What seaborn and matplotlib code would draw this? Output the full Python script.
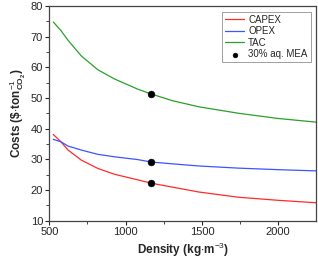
import matplotlib
matplotlib.use('Agg')
import pandas as pd
import matplotlib.pyplot as plt
import seaborn as sns

# 데이터
density = [526, 576, 623, 710, 818, 927, 1078, 1167, 1307, 1481, 1740, 2000, 2250]
capex = [38.1, 35.7, 33.0, 29.7, 27.0, 25.1, 23.3, 22.2, 20.9, 19.3, 17.6, 16.6, 15.8]
opex = [36.5, 35.7, 34.3, 33.0, 31.6, 30.8, 29.9, 29.1, 28.5, 27.8, 27.1, 26.6, 26.2]
tac = [74.8, 72.0, 68.8, 63.7, 59.2, 56.2, 52.9, 51.3, 49.1, 47.1, 45.0, 43.3, 42.1]

# 30% aq. MEA 기준점
mea_density = [1167, 1167, 1167]
mea_cost = [22.2, 29.1, 51.2]

series_names = ['CAPEX', 'OPEX', 'TAC']
colors = ['#ff2a2a', '#3b55ff', '#2aa02a']

df = pd.DataFrame({
    'density': density * 3,
    'cost': capex + opex + tac,
    'series': [n for n in series_names for _ in density],
})

sns.set_style('ticks')
plt.rcParams['font.family'] = ['Liberation Sans', 'DejaVu Sans']
plt.rcParams['mathtext.fontset'] = 'custom'
plt.rcParams['mathtext.rm'] = 'Liberation Sans'
plt.rcParams['mathtext.bf'] = 'Liberation Sans:bold'

fig, ax = plt.subplots(figsize=(3.18, 2.61), dpi=100)

sns.lineplot(data=df, x='density', y='cost', hue='series', hue_order=series_names,
             palette=colors, linewidth=0.9, ax=ax)
sns.scatterplot(x=mea_density, y=mea_cost, color='black', s=24, edgecolor='black',
                label='30% aq. MEA', ax=ax, zorder=5)

ax.set_xlim(500, 2250)
ax.set_ylim(10, 80)
ax.set_xticks([500, 1000, 1500, 2000])
ax.set_xticks([750, 1250, 1750], minor=True)
ax.set_yticks([10, 20, 30, 40, 50, 60, 70, 80])
ax.set_yticks([15, 25, 35, 45, 55, 65, 75], minor=True)
ax.tick_params(axis='both', which='major', labelsize=8, length=3, width=0.8,
               direction='out', pad=1.5)
ax.tick_params(axis='both', which='minor', length=2, width=0.6, direction='out')

for sp in ax.spines.values():
    sp.set_color('#444444')
    sp.set_linewidth(0.9)

ax.set_xlabel(r'Density (kg$\cdot$m$^{-3}$)', fontsize=8.5, fontweight='bold', labelpad=3)
ax.set_ylabel(r'Costs (\$$\cdot$ton$^{-1}_{\mathbf{CO_2}}$)', fontsize=8.5,
              fontweight='bold', labelpad=2)

leg = ax.legend(loc='upper right', fontsize=7, frameon=True, fancybox=False,
                handlelength=2.0, handletextpad=0.4, borderpad=0.3,
                labelspacing=0.15, borderaxespad=0.6, markerscale=0.7)
leg.get_frame().set_edgecolor('#888888')
leg.get_frame().set_linewidth(0.7)

fig.subplots_adjust(left=0.155, right=0.995, top=0.977, bottom=0.155)
fig.savefig('out.png', dpi=100)
